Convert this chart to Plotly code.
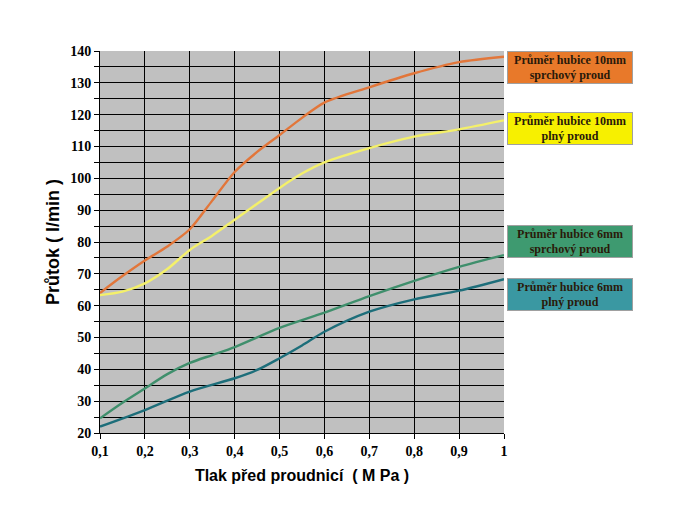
import plotly.graph_objects as go

# Data
x_orange = [0.1, 0.15, 0.2, 0.25, 0.3, 0.35, 0.4, 0.45, 0.5, 0.55, 0.6, 0.7, 0.8, 0.9, 1.0]
y_orange = [64, 69.3, 74.2, 78.6, 84, 93, 102, 108.3, 113.6, 119, 123.8, 128.6, 133, 136.5, 138.2]

x_yellow = [0.1, 0.15, 0.2, 0.25, 0.3, 0.35, 0.4, 0.45, 0.5, 0.55, 0.6, 0.7, 0.8, 0.9, 1.0]
y_yellow = [63.3, 64.4, 67, 71.5, 77.5, 82, 87, 92, 97, 101.5, 105, 109.5, 113.1, 115.4, 118.2]

x_green = [0.1, 0.15, 0.2, 0.25, 0.3, 0.35, 0.4, 0.5, 0.6, 0.7, 0.8, 0.9, 1.0]
y_green = [24.6, 29.5, 34, 38.5, 42, 44.5, 47, 53, 57.8, 63, 67.8, 72.2, 75.9]

x_teal = [0.1, 0.2, 0.3, 0.4, 0.45, 0.5, 0.55, 0.6, 0.7, 0.8, 0.9, 1.0]
y_teal = [22, 27.2, 33, 37.2, 39.8, 43.5, 47.5, 51.8, 58.1, 62, 64.7, 68.3]

x_tickvals = [0.1, 0.2, 0.3, 0.4, 0.5, 0.6, 0.7, 0.8, 0.9, 1.0]
x_ticktext = ["0,1", "0,2", "0,3", "0,4", "0,5", "0,6", "0,7", "0,8", "0,9", "1"]
y_tickvals = list(range(20, 141, 5))
y_ticktext = [str(v) if v % 10 == 0 else "" for v in y_tickvals]

series_names = [
    "Průměr hubice 10mm<br>sprchový proud",
    "Průměr hubice 10mm<br>plný proud",
    "Průměr hubice 6mm<br>sprchový proud",
    "Průměr hubice 6mm<br>plný proud",
]
line_colors = ["#E2763A", "#F4F06A", "#3F8F6C", "#1D6E7A"]
box_colors = ["#E8792A", "#F7F000", "#3E9A70", "#3A98A2"]
box_ypos = [0.958, 0.796, 0.501, 0.363]

fig = go.Figure()
for xs, ys, name, col in zip(
    [x_orange, x_yellow, x_green, x_teal],
    [y_orange, y_yellow, y_green, y_teal],
    series_names, line_colors,
):
    fig.add_trace(go.Scatter(
        x=xs, y=ys, mode="lines", name=name,
        line=dict(color=col, width=2.4, shape="spline", smoothing=0.8),
        showlegend=False,
    ))

for name, bc, yp in zip(series_names, box_colors, box_ypos):
    fig.add_annotation(
        xref="paper", yref="paper", x=1.0074, y=yp,
        xanchor="left", yanchor="middle",
        text="<b>" + name + "</b>", showarrow=False,
        font=dict(family="Liberation Serif", size=12, color="#2A1A0A"),
        bgcolor=bc, bordercolor="#A0A0A0", borderwidth=1, borderpad=0,
        width=124, height=31, align="center",
    )

tick_font = dict(family="Liberation Serif", size=14, color="black", weight="bold")
title_font_x = dict(family="Liberation Sans", size=16, color="black")
title_font_y = dict(family="Liberation Sans", size=18, color="black")

fig.update_layout(
    width=682, height=527,
    margin=dict(l=92, r=186, t=43, b=102),
    paper_bgcolor="white",
    plot_bgcolor="#C0C0C0",
    xaxis=dict(
        range=[0.1, 1.0], tickvals=x_tickvals, ticktext=x_ticktext,
        showgrid=True, gridcolor="black", gridwidth=1,
        ticks="outside", ticklen=5, tickcolor="black",
        showline=True, linecolor="black", linewidth=1,
        tickfont=tick_font, zeroline=False,
        title=dict(text="<b>Tlak před proudnicí  ( M Pa )</b>", font=title_font_x, standoff=12),
    ),
    yaxis=dict(
        range=[20, 140], tickvals=y_tickvals, ticktext=y_ticktext,
        showgrid=True, gridcolor="black", gridwidth=1,
        ticks="outside", ticklen=5, tickcolor="black",
        showline=True, linecolor="black", linewidth=1,
        tickfont=tick_font, zeroline=False,
        title=dict(text="<b>Průtok ( l/min )</b>", font=title_font_y, standoff=5),
    ),
)

fig.write_html("out.html")
